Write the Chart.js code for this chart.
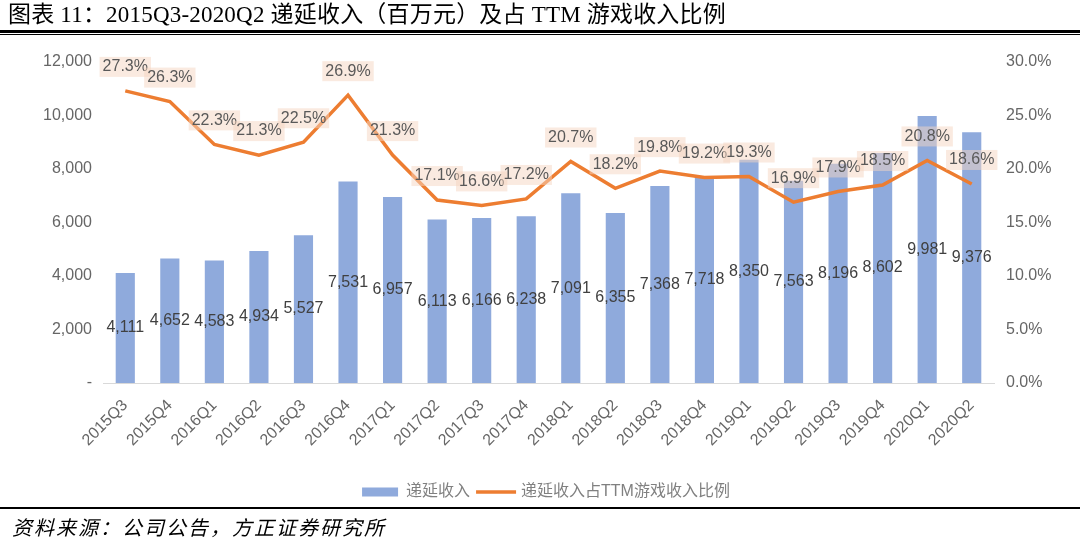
<!DOCTYPE html>
<html>
<head>
<meta charset="utf-8">
<script src="https://cdn.jsdelivr.net/npm/chart.js@4.4.1/dist/chart.umd.min.js"></script>
<style>
html,body{margin:0;padding:0;background:#fff;width:1080px;height:552px;overflow:hidden;}
#title{position:absolute;left:8px;top:1px;font-family:"Liberation Serif","Noto Sans CJK SC",serif;font-size:23px;letter-spacing:0.2px;color:#000;white-space:nowrap;line-height:28px;}
#rule1{position:absolute;left:0;top:30px;width:1080px;height:3px;background:#000;}
#rule2{position:absolute;left:0;top:34px;width:1080px;height:1px;background:#000;}
#rule3{position:absolute;left:0;top:507px;width:1080px;height:2px;background:#000;}
#source{position:absolute;left:12px;top:515px;font-family:"Liberation Serif","Noto Sans CJK SC",serif;font-style:italic;font-size:20px;letter-spacing:2px;color:#000;white-space:nowrap;line-height:26px;}
#wrap{position:absolute;left:0;top:0;width:1080px;height:552px;}
</style>
</head>
<body>
<div id="wrap"><canvas id="c" width="1080" height="552"></canvas></div>
<div id="title">图表 11：2015Q3-2020Q2 递延收入（百万元）及占 TTM 游戏收入比例</div>
<div id="rule1"></div><div id="rule2"></div>
<div id="rule3"></div>
<div id="source">资料来源：公司公告，方正证券研究所</div>
<script>
const categories = ['2015Q3','2015Q4','2016Q1','2016Q2','2016Q3','2016Q4','2017Q1','2017Q2','2017Q3','2017Q4','2018Q1','2018Q2','2018Q3','2018Q4','2019Q1','2019Q2','2019Q3','2019Q4','2020Q1','2020Q2'];
const deferredRevenue = [4111,4652,4583,4934,5527,7531,6957,6113,6166,6238,7091,6355,7368,7718,8350,7563,8196,8602,9981,9376];
const ratioPct = [27.3,26.3,22.3,21.3,22.5,26.9,21.3,17.1,16.6,17.2,20.7,18.2,19.8,19.2,19.3,16.9,17.9,18.5,20.8,18.6];
const leftTickLabels = ['-','2,000','4,000','6,000','8,000','10,000','12,000'];
const rightTickLabels = ['0.0%','5.0%','10.0%','15.0%','20.0%','25.0%','30.0%'];
const seriesNames = ['递延收入','递延收入占TTM游戏收入比例'];

const FONT = '"Liberation Sans","Noto Sans CJK SC",sans-serif';
Chart.defaults.font.family = FONT;
const BAR_COLOR = '#8FAADC';
const LINE_COLOR = '#ED7D31';
const AXIS_TEXT = '#666666';

const labelPlugin = {
  id: 'labels',
  afterDatasetsDraw(chart) {
    const ctx = chart.ctx;
    ctx.save();
    const bm = chart.getDatasetMeta(0);
    ctx.font = '16px ' + FONT;
    ctx.fillStyle = '#404040';
    ctx.textAlign = 'center';
    ctx.textBaseline = 'middle';
    bm.data.forEach((el, i) => {
      const v = chart.data.datasets[0].data[i];
      ctx.fillText(v.toLocaleString('en-US'), el.x, (el.y + el.base) / 2);
    });
    const lm = chart.getDatasetMeta(1);
    lm.data.forEach((el, i) => {
      const t = chart.data.datasets[1].data[i].toFixed(1) + '%';
      const w = ctx.measureText(t).width;
      const cy = el.y - 24;
      ctx.fillStyle = 'rgba(245,214,194,0.5)';
      ctx.fillRect(el.x - w / 2 - 3, cy - 10, w + 6, 20);
      ctx.fillStyle = '#595959';
      ctx.fillText(t, el.x, cy);
    });
    ctx.restore();
  },
  afterDraw(chart) {
    const ctx = chart.ctx;
    ctx.save();
    ctx.font = '16px ' + FONT;
    ctx.textBaseline = 'middle';
    ctx.textAlign = 'left';
    const w1 = ctx.measureText(seriesNames[0]).width;
    const w2 = ctx.measureText(seriesNames[1]).width;
    const total = 36 + 8 + w1 + 6 + 40 + 5 + w2;
    let x = 546 - total / 2;
    const y = 492;
    ctx.fillStyle = BAR_COLOR;
    ctx.fillRect(x, y - 4.5, 36, 9);
    x += 44;
    ctx.fillStyle = '#808080';
    ctx.fillText(seriesNames[0], x, y);
    x += w1 + 6;
    ctx.strokeStyle = LINE_COLOR;
    ctx.lineWidth = 3.5;
    ctx.beginPath();
    ctx.moveTo(x, y);
    ctx.lineTo(x + 40, y);
    ctx.stroke();
    x += 45;
    ctx.fillText(seriesNames[1], x, y);
    ctx.restore();
  }
};

new Chart(document.getElementById('c'), {
  type: 'bar',
  data: {
    labels: categories,
    datasets: [
      {
        type: 'bar',
        label: seriesNames[0],
        data: deferredRevenue,
        backgroundColor: BAR_COLOR,
        barPercentage: 0.43,
        categoryPercentage: 1.0,
        yAxisID: 'y',
        order: 2
      },
      {
        type: 'line',
        label: seriesNames[1],
        data: ratioPct,
        borderColor: LINE_COLOR,
        backgroundColor: LINE_COLOR,
        borderWidth: 3.5,
        pointRadius: 0,
        tension: 0,
        yAxisID: 'y1',
        order: 1
      }
    ]
  },
  options: {
    responsive: false,
    animation: false,
    layout: { padding: { top: 62, left: 0, right: 0, bottom: 0 } },
    plugins: { legend: { display: false }, tooltip: { enabled: false }, title: { display: false } },
    scales: {
      x: {
        grid: { display: false, drawTicks: false },
        border: { display: true, color: '#d9d9d9', width: 1 },
        ticks: { maxRotation: 45, minRotation: 45, color: AXIS_TEXT, font: { size: 16 }, padding: 13, autoSkip: false },
        afterFit(s) { s.height = 169; }
      },
      y: {
        position: 'left',
        min: 0, max: 12000,
        grid: { display: false, drawTicks: false },
        border: { display: false },
        ticks: { stepSize: 2000, color: AXIS_TEXT, font: { size: 16 }, padding: 11,
          callback: (v, i) => leftTickLabels[i] },
        afterFit(s) { s.width = 103; }
      },
      y1: {
        position: 'right',
        min: 0, max: 30,
        grid: { display: false, drawTicks: false },
        border: { display: false },
        ticks: { stepSize: 5, color: AXIS_TEXT, font: { size: 16 }, padding: 12,
          callback: (v, i) => rightTickLabels[i] },
        afterFit(s) { s.width = 86; }
      }
    }
  },
  plugins: [labelPlugin]
});
</script>
</body>
</html>
